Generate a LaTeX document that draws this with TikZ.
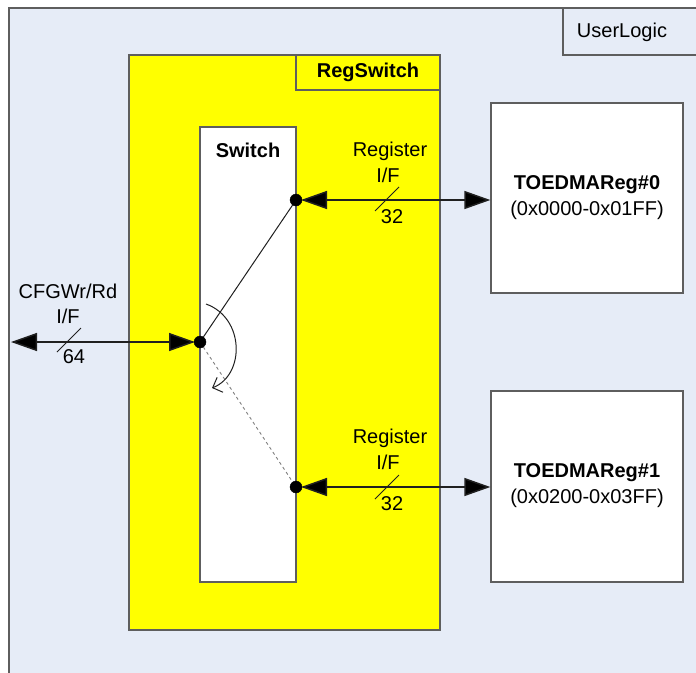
\documentclass[tikz,border=0pt]{standalone}
\usepackage{fontspec}
\setmainfont{Liberation Sans}
\usetikzlibrary{arrows.meta}
\definecolor{ulbg}{HTML}{E6ECF7}
\definecolor{edge}{HTML}{5E5E5E}
\definecolor{wire}{HTML}{202020}
\definecolor{ylw}{HTML}{FFFF00}
\tikzset{
  box/.style={draw=edge, line width=1.3pt, rectangle, inner sep=0pt},
  txt/.style={inner sep=0pt, font=\fontsize{20}{24}\selectfont, text=black},
  btxt/.style={txt, font=\fontsize{20}{24}\selectfont\bfseries},
  dotnode/.style={circle, fill=black, draw=black, inner sep=0pt, minimum size=12pt},
  bus/.style={draw=wire, line width=1.5pt, {Triangle[length=26pt,width=18pt,fill=black]}-{Triangle[length=26pt,width=18pt,fill=black]}},
  slash/.style={draw=wire, line width=1pt},
}
\begin{document}
\begin{tikzpicture}[x=1pt,y=-1pt]
\useasboundingbox (0,0) rectangle (696,672);
\clip (0,0) rectangle (696,672);
\fill[white] (0,0) rectangle (696,672);
% outer UserLogic frame
\path[draw=edge, line width=1.3pt, fill=ulbg] (9,8) rectangle (710,690);
\node[box, fill=ulbg, minimum width=147pt, minimum height=47pt] (ulbox) at (636.5,31.5) {};
\node[txt] (ultxt) at (622,32) {UserLogic};
% RegSwitch
\node[box, fill=ylw, minimum width=311pt, minimum height=575pt] (regsw) at (284.5,342.5) {};
\node[box, fill=ylw, minimum width=144pt, minimum height=35pt, btxt] (regswlbl) at (368,72.5) {RegSwitch};
% Switch
\node[box, fill=white, minimum width=96pt, minimum height=455pt] (sw) at (248,354.5) {};
\node[btxt] (swtxt) at (248,150) {Switch};
% register blocks
\node[box, fill=white, minimum width=192pt, minimum height=190pt] (reg0) at (587,198) {};
\node[btxt] (reg0a) at (587,185) {TOEDMAReg\#0};
\node[txt] (reg0b) at (587,210) {(0x0000-0x01FF)};
\node[box, fill=white, minimum width=192pt, minimum height=191pt] (reg1) at (587,486.5) {};
\node[btxt] (reg1a) at (587,473) {TOEDMAReg\#1};
\node[txt] (reg1b) at (587,498) {(0x0200-0x03FF)};
% switch contacts
\coordinate (dc) at (200,342);
\coordinate (d0) at (296,200);
\coordinate (d1) at (296,487);
\draw[wire, line width=1pt] (dc) -- (d0);
\draw[line width=0.9pt, dashed, draw=gray] (dc) -- (d1);
% rotation arrow
\draw[wire, line width=1pt, -{Straight Barb[length=8pt,width=16pt]}] (206,304) .. controls (245,318) and (245,375) .. (212,388);
% buses
\coordinate (lend) at (11,342);
\path[bus] (lend) -- ([xshift=-5pt]dc);
\path[bus] ([xshift=5pt]d0) -- (reg0.west |- d0);
\path[bus] ([xshift=5pt]d1) -- (reg1.west |- d1);
\node[dotnode] (dcn) at (dc) {};
\node[dotnode] (d0n) at (d0) {};
\node[dotnode] (d1n) at (d1) {};
% slashes
\path[slash] (57,352) -- (81,328);
\path[slash] (375,211) -- (399,187);
\path[slash] (375,499) -- (399,475);
% labels
\node[txt] (cfg1) at (68,291) {CFGWr/Rd};
\node[txt] (cfg2) at (68,316) {I/F};
\node[txt] (cfg3) at (74,357) {64};
\node[txt] (r0a) at (390,151) {Register};
\node[txt] (r0b) at (388,175) {I/F};
\node[txt] (r0c) at (392,217) {32};
\node[txt] (r1a) at (390,438) {Register};
\node[txt] (r1b) at (388,462) {I/F};
\node[txt] (r1c) at (392,504) {32};
\end{tikzpicture}
\end{document}
